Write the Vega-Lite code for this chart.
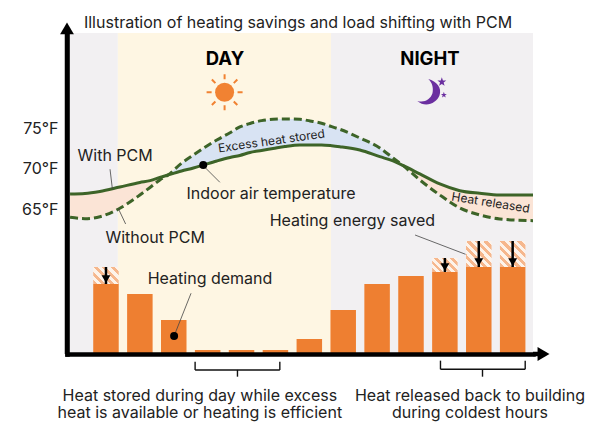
{
"$schema":"https://vega.github.io/schema/vega-lite/v6.json",
"width":466,"height":321,
"autosize":{"type":"none"},
"padding":{"left":67,"top":33,"right":63,"bottom":68},
"background":"#ffffff",
"title":{"text":"Illustration of heating savings and load shifting with PCM","font":"Inter","fontSize":16,"fontWeight":"normal","color":"#222222","anchor":"middle","offset":-9,"dx":-2},
"config":{"view":{"stroke":null},"text":{"font":"Inter"}},
"datasets":{
"periods":[{"period":"Early morning","start":-1.06,"end":0.35,"shade":"night"},{"period":"Day","start":0.35,"end":6.64,"shade":"day"},{"period":"Night","start":6.64,"end":12.6,"shade":"night"}],
"curve":[
{"hour":-1.06,"with_pcm":66.67,"without_pcm":63.79},
{"hour":-0.62,"with_pcm":66.73,"without_pcm":63.62},
{"hour":-0.18,"with_pcm":66.98,"without_pcm":63.86},
{"hour":0.41,"with_pcm":67.53,"without_pcm":64.90},
{"hour":1.0,"with_pcm":68.09,"without_pcm":66.54},
{"hour":1.30,"with_pcm":68.31,"without_pcm":67.47},
{"hour":1.59,"with_pcm":68.70,"without_pcm":68.40},
{"hour":1.83,"with_pcm":69.01,"without_pcm":69.01},
{"hour":2.23,"with_pcm":69.51,"without_pcm":70.46},
{"hour":2.58,"with_pcm":69.88,"without_pcm":71.48},
{"hour":2.92,"with_pcm":70.31,"without_pcm":72.43},
{"hour":3.27,"with_pcm":70.74,"without_pcm":73.33},
{"hour":3.66,"with_pcm":71.17,"without_pcm":74.23},
{"hour":3.95,"with_pcm":71.42,"without_pcm":74.94},
{"hour":4.25,"with_pcm":71.79,"without_pcm":75.37},
{"hour":4.59,"with_pcm":72.04,"without_pcm":75.72},
{"hour":4.93,"with_pcm":72.28,"without_pcm":75.89},
{"hour":5.28,"with_pcm":72.53,"without_pcm":75.93},
{"hour":5.72,"with_pcm":72.72,"without_pcm":75.89},
{"hour":6.02,"with_pcm":72.72,"without_pcm":75.68},
{"hour":6.36,"with_pcm":72.72,"without_pcm":75.40},
{"hour":6.66,"with_pcm":72.63,"without_pcm":74.98},
{"hour":6.90,"with_pcm":72.51,"without_pcm":74.65},
{"hour":7.49,"with_pcm":72.10,"without_pcm":73.58},
{"hour":8.08,"with_pcm":71.27,"without_pcm":72.35},
{"hour":8.47,"with_pcm":70.74,"without_pcm":71.11},
{"hour":8.76,"with_pcm":70.19,"without_pcm":70.19},
{"hour":9.26,"with_pcm":69.14,"without_pcm":68.40},
{"hour":9.85,"with_pcm":67.90,"without_pcm":66.54},
{"hour":10.44,"with_pcm":67.07,"without_pcm":64.94},
{"hour":11.03,"with_pcm":66.75,"without_pcm":64.07},
{"hour":11.62,"with_pcm":66.54,"without_pcm":63.58},
{"hour":12.6,"with_pcm":66.54,"without_pcm":63.37}
],
"bars":[
{"hour":0,"demand":70,"before":87},
{"hour":1,"demand":60},
{"hour":2,"demand":34},
{"hour":3,"demand":4},
{"hour":4,"demand":4},
{"hour":5,"demand":4},
{"hour":6,"demand":15},
{"hour":7,"demand":44},
{"hour":8,"demand":70},
{"hour":9,"demand":78},
{"hour":10,"demand":82,"before":96},
{"hour":11,"demand":87,"before":113},
{"hour":12,"demand":87,"before":113}
],
"labels":[
{"label":"With PCM","hour":0.27,"temp":71.36},
{"label":"Without PCM","hour":1.45,"temp":61.27},
{"label":"Indoor air temperature","hour":4.87,"temp":66.67},
{"label":"Heating energy saved","hour":7.27,"temp":63.33},
{"label":"Heating demand","hour":3.07,"temp":56.14},
{"label":"Heat stored during day while excess\nheat is available or heating is efficient","hour":2.77,"temp":41.77},
{"label":"Heat released back to building\nduring coldest hours","hour":10.74,"temp":41.77}
],
"leaders":[
{"hour":0.12,"hour2":0.19,"temp":69.72,"temp2":67.25},
{"hour":0.36,"hour2":0.58,"temp":64.90,"temp2":62.96},
{"hour":2.87,"hour2":3.36,"temp":70.16,"temp2":68.11},
{"hour":2.01,"hour2":2.51,"temp":49.14,"temp2":54.41},
{"hour":9.12,"hour2":10.61,"temp":61.60,"temp2":59.22}
],
"brackets":[
{"hour":2.63,"hour2":2.63,"temp":45.96,"temp2":44.94},
{"hour":2.63,"hour2":5.13,"temp":44.94,"temp2":44.94},
{"hour":5.13,"hour2":5.13,"temp":45.96,"temp2":44.94},
{"hour":3.88,"hour2":3.88,"temp":44.94,"temp2":44.11},
{"hour":9.87,"hour2":9.87,"temp":46.09,"temp2":45.02},
{"hour":9.87,"hour2":12.37,"temp":45.02,"temp2":45.02},
{"hour":12.37,"hour2":12.37,"temp":46.09,"temp2":45.02},
{"hour":11.11,"hour2":11.11,"temp":45.02,"temp2":44.11}
]
},
"encoding":{"x":{"field":"hour","type":"quantitative","scale":{"domain":[-1.15,12.6],"nice":false,"zero":false,"padding":0},"axis":{"title":null,"labels":false,"ticks":false,"grid":false,"domainColor":"#000000","domainWidth":4.5,"domainCap":"square","zindex":1}}},
"resolve":{"scale":{"y":"independent"}},
"layer":[
{"data":{"name":"periods"},"mark":{"type":"rect"},"encoding":{"x":{"field":"start","type":"quantitative"},"x2":{"field":"end"},"color":{"field":"shade","type":"nominal","legend":null,"scale":{"domain":["night","day"],"range":["#f2f0f2","#fef6e3"]}}}},
{"data":{"name":"curve"},"transform":[{"filter":"datum.hour <= 1.83"}],"mark":{"type":"area","interpolate":"monotone","color":"#fbe4d6"},"encoding":{"y":{"field":"without_pcm","type":"quantitative","scale":{"domain":[46.91,86.54],"nice":false,"zero":false},"axis":null},"y2":{"field":"with_pcm"}}},
{"data":{"name":"curve"},"transform":[{"filter":"datum.hour >= 1.83 && datum.hour <= 8.76"}],"mark":{"type":"area","interpolate":"monotone","color":"#d8e3f3"},"encoding":{"y":{"field":"without_pcm","type":"quantitative","scale":{"domain":[46.91,86.54],"nice":false,"zero":false},"axis":null},"y2":{"field":"with_pcm"}}},
{"data":{"name":"curve"},"transform":[{"filter":"datum.hour >= 8.76"}],"mark":{"type":"area","interpolate":"monotone","color":"#fbe4d6"},"encoding":{"y":{"field":"without_pcm","type":"quantitative","scale":{"domain":[46.91,86.54],"nice":false,"zero":false},"axis":null},"y2":{"field":"with_pcm"}}},
{"data":{"name":"curve"},"mark":{"type":"line","interpolate":"monotone","color":"#3d6428","strokeWidth":3,"strokeDash":[8,4]},"encoding":{"y":{"field":"without_pcm","type":"quantitative","scale":{"domain":[46.91,86.54],"nice":false,"zero":false},"axis":null}}},
{"data":{"name":"curve"},"mark":{"type":"line","interpolate":"monotone","color":"#3d6428","strokeWidth":3},"encoding":{"y":{"field":"with_pcm","type":"quantitative","scale":{"domain":[46.91,86.54],"nice":false,"zero":false},"axis":{"title":null,"values":[65,70,75],"labelExpr":"datum.value + '°F'","ticks":false,"grid":false,"domainColor":"#000000","domainWidth":4.5,"domainCap":"square","labelFont":"Inter","labelFontSize":16,"labelColor":"#222222","labelPadding":9,"labelOffset":2,"zindex":1}}}},
{"data":{"name":"bars"},"mark":{"type":"bar","orient":"vertical","size":25.5,"color":"#ee7f31"},"encoding":{"y":{"field":"demand","type":"quantitative","scale":{"domain":[0,321],"nice":false},"axis":null}}},
{"data":{"name":"bars"},"transform":[{"filter":"datum.hour == 0"}],"mark":{"type":"bar","orient":"vertical","size":25.5,"color":{"gradient":"linear","x1":0,"y1":1,"x2":1.153,"y2":0.231,"stops":[{"offset":0,"color":"#f6b78d"},{"offset":0.1,"color":"#f6b78d"},{"offset":0.1,"color":"#fdf3ea"},{"offset":0.2,"color":"#fdf3ea"},{"offset":0.2,"color":"#f6b78d"},{"offset":0.3,"color":"#f6b78d"},{"offset":0.3,"color":"#fdf3ea"},{"offset":0.4,"color":"#fdf3ea"},{"offset":0.4,"color":"#f6b78d"},{"offset":0.5,"color":"#f6b78d"},{"offset":0.5,"color":"#fdf3ea"},{"offset":0.6,"color":"#fdf3ea"},{"offset":0.6,"color":"#f6b78d"},{"offset":0.7,"color":"#f6b78d"},{"offset":0.7,"color":"#fdf3ea"},{"offset":0.8,"color":"#fdf3ea"},{"offset":0.8,"color":"#f6b78d"},{"offset":0.9,"color":"#f6b78d"},{"offset":0.9,"color":"#fdf3ea"},{"offset":1,"color":"#fdf3ea"}]}},"encoding":{"y":{"field":"before","type":"quantitative","scale":{"domain":[0,321],"nice":false},"axis":null},"y2":{"field":"demand"}}},
{"data":{"name":"bars"},"transform":[{"filter":"datum.hour == 10"}],"mark":{"type":"bar","orient":"vertical","size":25.5,"color":{"gradient":"linear","x1":0,"y1":1,"x2":1.19,"y2":0.345,"stops":[{"offset":0,"color":"#f6b78d"},{"offset":0.1,"color":"#f6b78d"},{"offset":0.1,"color":"#fdf3ea"},{"offset":0.2,"color":"#fdf3ea"},{"offset":0.2,"color":"#f6b78d"},{"offset":0.3,"color":"#f6b78d"},{"offset":0.3,"color":"#fdf3ea"},{"offset":0.4,"color":"#fdf3ea"},{"offset":0.4,"color":"#f6b78d"},{"offset":0.5,"color":"#f6b78d"},{"offset":0.5,"color":"#fdf3ea"},{"offset":0.6,"color":"#fdf3ea"},{"offset":0.6,"color":"#f6b78d"},{"offset":0.7,"color":"#f6b78d"},{"offset":0.7,"color":"#fdf3ea"},{"offset":0.8,"color":"#fdf3ea"},{"offset":0.8,"color":"#f6b78d"},{"offset":0.9,"color":"#f6b78d"},{"offset":0.9,"color":"#fdf3ea"},{"offset":1,"color":"#fdf3ea"}]}},"encoding":{"y":{"field":"before","type":"quantitative","scale":{"domain":[0,321],"nice":false},"axis":null},"y2":{"field":"demand"}}},
{"data":{"name":"bars"},"transform":[{"filter":"datum.hour >= 11"}],"mark":{"type":"bar","orient":"vertical","size":25.5,"color":{"gradient":"linear","x1":0,"y1":1,"x2":1,"y2":0,"stops":[{"offset":0,"color":"#f6b78d"},{"offset":0.0833,"color":"#f6b78d"},{"offset":0.0833,"color":"#fdf3ea"},{"offset":0.1667,"color":"#fdf3ea"},{"offset":0.1667,"color":"#f6b78d"},{"offset":0.25,"color":"#f6b78d"},{"offset":0.25,"color":"#fdf3ea"},{"offset":0.3333,"color":"#fdf3ea"},{"offset":0.3333,"color":"#f6b78d"},{"offset":0.4167,"color":"#f6b78d"},{"offset":0.4167,"color":"#fdf3ea"},{"offset":0.5,"color":"#fdf3ea"},{"offset":0.5,"color":"#f6b78d"},{"offset":0.5833,"color":"#f6b78d"},{"offset":0.5833,"color":"#fdf3ea"},{"offset":0.6667,"color":"#fdf3ea"},{"offset":0.6667,"color":"#f6b78d"},{"offset":0.75,"color":"#f6b78d"},{"offset":0.75,"color":"#fdf3ea"},{"offset":0.8333,"color":"#fdf3ea"},{"offset":0.8333,"color":"#f6b78d"},{"offset":0.9167,"color":"#f6b78d"},{"offset":0.9167,"color":"#fdf3ea"},{"offset":1,"color":"#fdf3ea"}]}},"encoding":{"y":{"field":"before","type":"quantitative","scale":{"domain":[0,321],"nice":false},"axis":null},"y2":{"field":"demand"}}},
{"data":{"name":"bars"},"transform":[{"filter":"isValid(datum.before)"}],"mark":{"type":"rule","color":"#000000","strokeWidth":2.5},"encoding":{"y":{"field":"before","type":"quantitative","scale":{"domain":[0,321],"nice":false},"axis":null},"y2":{"field":"demand"}}},
{"data":{"name":"bars"},"transform":[{"filter":"isValid(datum.before)"}],"mark":{"type":"point","shape":"triangle-down","filled":true,"color":"#000000","opacity":1,"size":80},"encoding":{"y":{"field":"demand","type":"quantitative","scale":{"domain":[-5,316],"nice":false},"axis":null}}},
{"data":{"name":"leaders"},"mark":{"type":"rule","color":"#444444","strokeWidth":0.8},"encoding":{"x2":{"field":"hour2"},"y":{"field":"temp","type":"quantitative","scale":{"domain":[46.91,86.54],"nice":false,"zero":false},"axis":null},"y2":{"field":"temp2"}}},
{"data":{"name":"brackets"},"mark":{"type":"rule","color":"#111111","strokeWidth":1.4},"encoding":{"x2":{"field":"hour2"},"y":{"field":"temp","type":"quantitative","scale":{"domain":[46.91,86.54],"nice":false,"zero":false},"axis":null},"y2":{"field":"temp2"}}},
{"data":{"values":[{"hour":2.87,"temp":70.25},{"hour":2.01,"temp":49.14}]},"mark":{"type":"point","shape":"circle","filled":true,"color":"#000000","opacity":1,"size":64},"encoding":{"y":{"field":"temp","type":"quantitative","scale":{"domain":[46.91,86.54],"nice":false,"zero":false},"axis":null}}},
{"data":{"values":[{"hour":3.5,"temp":79.22}]},"mark":{"type":"point","shape":"circle","filled":true,"color":"#f18232","opacity":1,"size":361},"encoding":{"y":{"field":"temp","type":"quantitative","scale":{"domain":[46.91,86.54],"nice":false,"zero":false},"axis":null}}},
{"data":{"values":[{"hour":3.5,"temp":79.22}]},"mark":{"type":"point","shape":"M0,-1L0,-0.72M0.707,-0.707L0.51,-0.51M1,0L0.72,0M0.707,0.707L0.51,0.51M0,1L0,0.72M-0.707,0.707L-0.51,0.51M-1,0L-0.72,0M-0.707,-0.707L-0.51,-0.51","filled":false,"color":"#f18232","opacity":1,"strokeWidth":2,"size":1296},"encoding":{"y":{"field":"temp","type":"quantitative","scale":{"domain":[46.91,86.54],"nice":false,"zero":false},"axis":null}}},
{"data":{"values":[{"hour":9.53,"temp":79.26}]},"mark":{"type":"point","shape":"M-0.05,-0.93C0.55,-0.75 0.95,-0.3 0.75,0.25C0.55,0.8 -0.25,1.15 -0.83,0.64C-0.35,0.8 0.1,0.55 0.25,0.1C0.35,-0.35 0.2,-0.7 -0.05,-0.93Z","filled":true,"color":"#6b2fa0","opacity":1,"size":784},"encoding":{"y":{"field":"temp","type":"quantitative","scale":{"domain":[46.91,86.54],"nice":false,"zero":false},"axis":null}}},
{"data":{"values":[{"hour":9.91,"temp":80.49}]},"mark":{"type":"point","shape":"M0,-1L0.235,-0.324L0.951,-0.309L0.38,0.124L0.588,0.809L0,0.4L-0.588,0.809L-0.38,0.124L-0.951,-0.309L-0.235,-0.324Z","filled":true,"color":"#6b2fa0","opacity":1,"size":88},"encoding":{"y":{"field":"temp","type":"quantitative","scale":{"domain":[46.91,86.54],"nice":false,"zero":false},"axis":null}}},
{"data":{"values":[{"hour":9.97,"temp":78.89}]},"mark":{"type":"point","shape":"M0,-1L0.235,-0.324L0.951,-0.309L0.38,0.124L0.588,0.809L0,0.4L-0.588,0.809L-0.38,0.124L-0.951,-0.309L-0.235,-0.324Z","filled":true,"color":"#6b2fa0","opacity":1,"size":40},"encoding":{"y":{"field":"temp","type":"quantitative","scale":{"domain":[46.91,86.54],"nice":false,"zero":false},"axis":null}}},
{"data":{"values":[{"hour":12.85,"hour2":12.6,"temp":46.91},{"hour":-1.15,"hour2":-1.15,"temp":87.0}]},"mark":{"type":"rule","color":"#000000","strokeWidth":4.5},"encoding":{"x2":{"field":"hour2"},"y":{"field":"temp","type":"quantitative","scale":{"domain":[46.91,86.54],"nice":false,"zero":false},"axis":null},"y2":{"datum":46.91}}},
{"data":{"values":[{"hour":12.91,"temp":46.91}]},"mark":{"type":"point","shape":"triangle-right","filled":true,"color":"#000000","opacity":1,"size":190},"encoding":{"y":{"field":"temp","type":"quantitative","scale":{"domain":[46.91,86.54],"nice":false,"zero":false},"axis":null}}},
{"data":{"values":[{"hour":-1.15,"temp":87.11}]},"mark":{"type":"point","shape":"triangle-up","filled":true,"color":"#000000","opacity":1,"size":190},"encoding":{"y":{"field":"temp","type":"quantitative","scale":{"domain":[46.91,86.54],"nice":false,"zero":false},"axis":null}}},
{"data":{"name":"labels"},"mark":{"type":"text","font":"Inter","fontSize":16,"color":"#222222","align":"center","baseline":"middle","lineBreak":"\n","lineHeight":17.6},"encoding":{"y":{"field":"temp","type":"quantitative","scale":{"domain":[46.91,86.54],"nice":false,"zero":false},"axis":null},"text":{"field":"label"}}},
{"data":{"values":[{"label":"Excess heat stored","hour":4.88,"temp":73.21}]},"mark":{"type":"text","font":"Inter","fontSize":12,"color":"#222222","align":"center","baseline":"middle","angle":352},"encoding":{"y":{"field":"temp","type":"quantitative","scale":{"domain":[46.91,86.54],"nice":false,"zero":false},"axis":null},"text":{"field":"label"}}},
{"data":{"values":[{"label":"Heat released","hour":11.35,"temp":65.59}]},"mark":{"type":"text","font":"Inter","fontSize":12,"color":"#222222","align":"center","baseline":"middle","angle":9},"encoding":{"y":{"field":"temp","type":"quantitative","scale":{"domain":[46.91,86.54],"nice":false,"zero":false},"axis":null},"text":{"field":"label"}}},
{"data":{"values":[{"label":"DAY","hour":3.51,"temp":83.33},{"label":"NIGHT","hour":9.56,"temp":83.33}]},"mark":{"type":"text","font":"Inter","fontSize":18.5,"fontWeight":"bold","color":"#000000","align":"center","baseline":"middle"},"encoding":{"y":{"field":"temp","type":"quantitative","scale":{"domain":[46.91,86.54],"nice":false,"zero":false},"axis":null},"text":{"field":"label"}}}
]
}
